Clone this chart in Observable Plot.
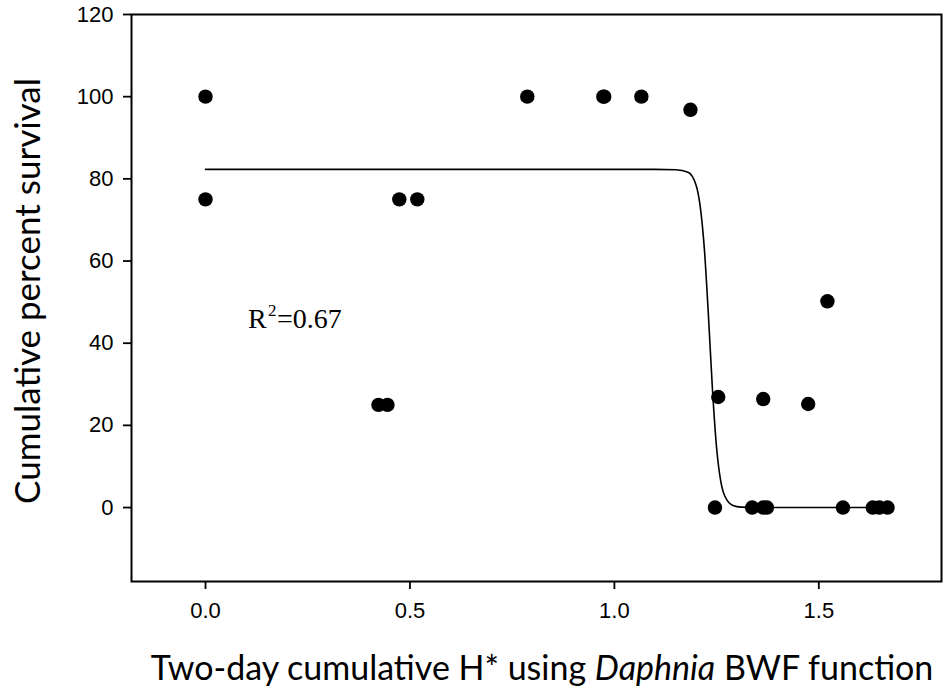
<!DOCTYPE html>
<html>
<head>
<meta charset="utf-8">
<script src="https://cdn.jsdelivr.net/npm/d3@7"></script>
<script src="https://cdn.jsdelivr.net/npm/@observablehq/plot@0.6"></script>
<style>
  html, body { margin: 0; padding: 0; background: #fff; }
  #chart svg { display: block; }
</style>
</head>
<body>
<div id="chart"></div>
<script>
// Observed points: two-day cumulative H* (x) vs cumulative percent survival (y)
const obsX = [0.0, 0.0, 0.423, 0.445, 0.474, 0.518, 0.787, 0.973, 0.975, 1.066, 1.186,
              1.246, 1.254, 1.337, 1.364, 1.364, 1.373, 1.474, 1.521, 1.559, 1.632, 1.648, 1.668];
const obsY = [100, 75, 25, 25, 75, 75, 100, 100, 100, 100, 96.8,
              0, 26.9, 0, 0, 26.4, 0, 25.2, 50.2, 0, 0, 0, 0];

// Fitted curve
const fitX = [0.0, 1.10, 1.15, 1.18, 1.20, 1.21, 1.22, 1.23, 1.24, 1.25, 1.26, 1.27, 1.29, 1.31, 1.35, 1.668];
const fitY = [82.3, 82.3, 82.2, 81.6, 78.4, 73.2, 63.0, 46.7, 28.5, 14.5, 6.5, 2.8, 0.5, 0.1, 0, 0];

const xTicks = [0, 0.5, 1.0, 1.5];
const yTicks = [0, 20, 40, 60, 80, 100, 120];

const xTitleParts = [["Two-day cumulative H* using ", "normal"], ["Daphnia", "italic"], [" BWF function", "normal"]];
const yTitle = "Cumulative percent survival";
const r2Label = ["R", "2", "=0.67"];

const points = obsX.map((x, i) => ({x, y: obsY[i]}));
const fit = fitX.map((x, i) => ({x, y: fitY[i]}));

const serif = "'Liberation Serif', 'Times New Roman', serif";

const chart = Plot.plot({
  width: 951,
  height: 692,
  marginLeft: 131,
  marginRight: 10,
  marginTop: 14,
  marginBottom: 111,
  style: {background: "#fff", color: "#000", fontFamily: "'Liberation Sans', Arial, sans-serif"},
  x: {domain: [-0.181, 1.80]},
  y: {domain: [-18, 120]},
  marks: [
    Plot.axisX({ticks: xTicks, tickFormat: d3.format(".1f"), tickSize: 8, tickPadding: 13,
                fontSize: 22, strokeWidth: 1.8, label: null}),
    Plot.axisY({ticks: yTicks, tickFormat: d3.format("d"), tickSize: 8, tickPadding: 10,
                fontSize: 22, strokeWidth: 1.8, label: null}),
    Plot.frame({stroke: "#000", strokeWidth: 2}),
    Plot.line(fit, {x: "x", y: "y", stroke: "#000", strokeWidth: 1.6, curve: "monotone-x"}),
    Plot.dot(points, {x: "x", y: "y", r: 7.2, fill: "#000", stroke: "none"}),
    Plot.text([{x: 0.104, y: 43.8}], {x: "x", y: "y", text: () => r2Label[0], textAnchor: "start", lineAnchor: "bottom",
      fontFamily: serif, fontSize: 28, fill: "#000"}),
    Plot.text([{x: 0.104, y: 43.8}], {x: "x", y: "y", text: () => r2Label[1], textAnchor: "start", lineAnchor: "bottom",
      dx: 20, dy: -12, fontFamily: serif, fontSize: 17, fill: "#000"}),
    Plot.text([{x: 0.104, y: 43.8}], {x: "x", y: "y", text: () => r2Label[2], textAnchor: "start", lineAnchor: "bottom",
      dx: 29, fontFamily: serif, fontSize: 28, fill: "#000"})
  ]
});

document.getElementById("chart").appendChild(chart);

// Axis titles (with italic species name)
const svg = d3.select(chart);
const xt = svg.append("text")
  .attr("x", 542).attr("y", 680)
  .attr("text-anchor", "middle")
  .attr("font-family", "Lato, 'Open Sans', sans-serif")
  .attr("font-size", 34)
  .attr("fill", "#000");
xTitleParts.forEach(([t, s]) => xt.append("tspan").attr("font-style", s).text(t));

svg.append("text")
  .attr("transform", "translate(26,291) rotate(-90)")
  .attr("text-anchor", "middle")
  .attr("dominant-baseline", "central")
  .attr("font-family", "Lato, 'Open Sans', sans-serif")
  .attr("font-size", 35)
  .attr("fill", "#000")
  .text(yTitle);
</script>
</body>
</html>
